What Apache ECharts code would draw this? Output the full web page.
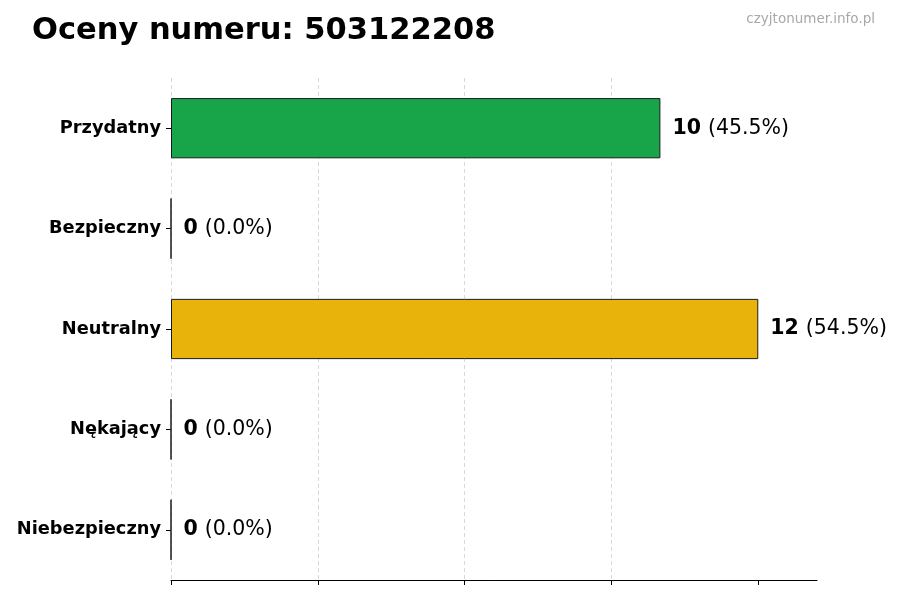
<!DOCTYPE html>
<html>
<head>
<meta charset="utf-8">
<script src="https://cdn.jsdelivr.net/npm/echarts@6/dist/echarts.min.js"></script>
<style>
html, body { margin: 0; padding: 0; background: #fff; }
#chart { width: 900px; height: 600px; }
</style>
</head>
<body>
<div id="chart"></div>
<script>
// dane wykresu
var categories = ['Przydatny', 'Bezpieczny', 'Neutralny', 'Nękający', 'Niebezpieczny'];
var counts = [10, 0, 12, 0, 0];
var percents = ['45.5%', '0.0%', '54.5%', '0.0%', '0.0%'];
var barColors = ['#18a54a', '#18a54a', '#e8b40b', '#e8b40b', '#e8b40b'];
var xTicks = [0, 3, 6, 9, 12];

var font = 'DejaVu Sans';

var seriesData = counts.map(function (v, i) {
    return {
        value: v,
        itemStyle: { color: barColors[i] }
    };
});

var option = {
    backgroundColor: '#fff',
    animation: false,
    textStyle: { fontFamily: font },
    title: [{
        text: 'Oceny numeru: 503122208',
        left: 27,
        top: 11,
        textStyle: { fontFamily: font, fontSize: 30.5, fontWeight: 'bold', color: '#000' }
    }, {
        text: 'czyjtonumer.info.pl',
        right: 20,
        top: 7,
        textStyle: { fontFamily: font, fontSize: 13.5, fontWeight: 'normal', color: '#a8a8a8' }
    }],
    grid: { left: 171, right: 83, top: 78, bottom: 20 },
    xAxis: {
        type: 'value',
        min: 0,
        max: 13.2,
        interval: 3,
        axisLine: { show: true, lineStyle: { color: '#000', width: 1 } },
        axisTick: { show: true, customValues: xTicks, length: 5, lineStyle: { color: '#000' } },
        axisLabel: { show: false },
        splitLine: { show: true, showMaxLine: false, lineStyle: { color: '#d8d8d8', type: [4, 3], width: 1 } }
    },
    yAxis: {
        type: 'category',
        data: categories,
        inverse: true,
        axisLine: { show: false },
        axisTick: { show: true, alignWithLabel: true, length: 5, lineStyle: { color: '#000' } },
        axisLabel: { fontFamily: font, fontSize: 17.8, fontWeight: 'bold', color: '#000', margin: 10 },
        splitLine: { show: false }
    },
    series: [{
        type: 'bar',
        data: seriesData,
        barWidth: '60%',
        itemStyle: { borderColor: '#1a1a1a', borderWidth: 1 },
        label: {
            show: true,
            position: 'right',
            distance: 12,
            formatter: function (p) {
                return '{b|' + p.value + '}{n|(' + percents[p.dataIndex] + ')}';
            },
            rich: {
                b: { fontFamily: font, fontSize: 20.5, fontWeight: 'bold', color: '#000' },
                n: { fontFamily: font, fontSize: 20.5, color: '#000', padding: [0, 0, 0, 7] }
            }
        }
    }]
};

var myChart = echarts.init(document.getElementById('chart'));
myChart.setOption(option);
</script>
</body>
</html>
